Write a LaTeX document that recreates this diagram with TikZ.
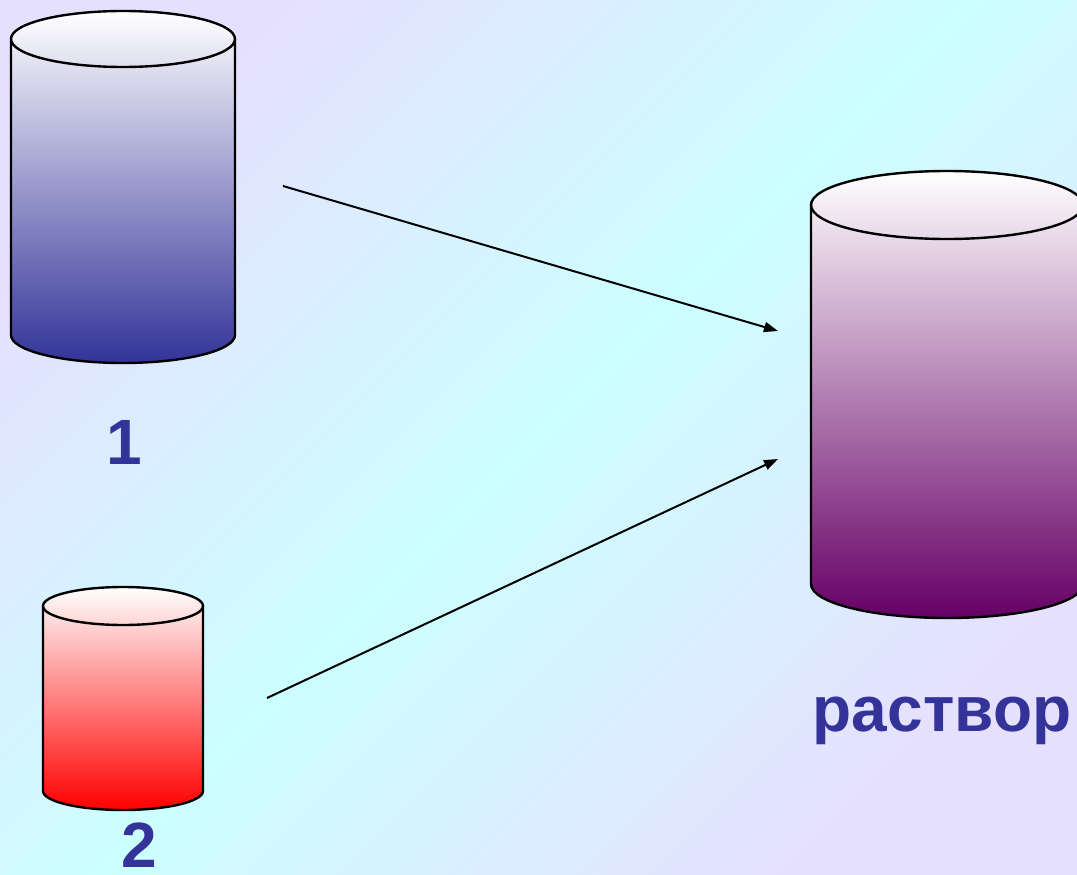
\documentclass[tikz,border=0pt]{standalone}
\usepackage{fontspec}
\setmainfont{Liberation Sans}
\usetikzlibrary{arrows.meta}
\definecolor{Lilac}{HTML}{E6E0FF}
\definecolor{Aqua}{HTML}{CCFFFF}
\definecolor{Ink}{HTML}{333399}
\definecolor{Navy}{HTML}{333399}
\definecolor{Plum}{HTML}{660066}

\tikzset{
  tankline/.style={line width=2.4pt,line join=round},
  flow/.style={line width=2pt,-{Triangle[length=14pt,width=10pt]}},
  lbl/.style={anchor=base,text=Ink,font=\fontsize{64}{70}\selectfont\bfseries,inner sep=0pt}
}

% cylinder: centre x, top y, bottom y, x radius, y radius, colour
\newcommand{\tank}[6]{%
  \shade[top color=white,bottom color=#6]
    (#1-#4,#2) -- (#1-#4,#3) arc[start angle=180,end angle=0,x radius=#4,y radius=#5]
    -- (#1+#4,#2) arc[start angle=0,end angle=-180,x radius=#4,y radius=#5] -- cycle;
  \draw[tankline] (#1-#4,#2) -- (#1-#4,#3)
    arc[start angle=180,end angle=0,x radius=#4,y radius=#5] -- (#1+#4,#2);
  \draw[tankline] (#1,#2) ellipse[x radius=#4,y radius=#5];
}

\begin{document}
\begin{tikzpicture}[x=1pt,y=-1pt]
  \useasboundingbox (0,0) rectangle (1077,875);
  \clip (0,0) rectangle (1077,875);
  \shade[top color=Lilac,bottom color=Lilac,middle color=Aqua,shading angle=45]
    (0,0) rectangle (1077,875);

  \tank{123}{39}{335}{112}{28}{Navy}
  \tank{123}{606}{791}{80}{19}{red}
  \tank{947}{205}{584}{136}{34}{Plum}

  \coordinate (from1) at (283,186);
  \coordinate (into1) at (778,331);
  \coordinate (from2) at (267,698);
  \coordinate (into2) at (778,459);
  \draw[flow] (from1) -- (into1);
  \draw[flow] (from2) -- (into2);

  \node[lbl] (one) at (124,464) {1};
  \node[lbl] (two) at (139,867) {2};
  \node[lbl] (mix) at (942,731) {раствор};
\end{tikzpicture}
\end{document}
